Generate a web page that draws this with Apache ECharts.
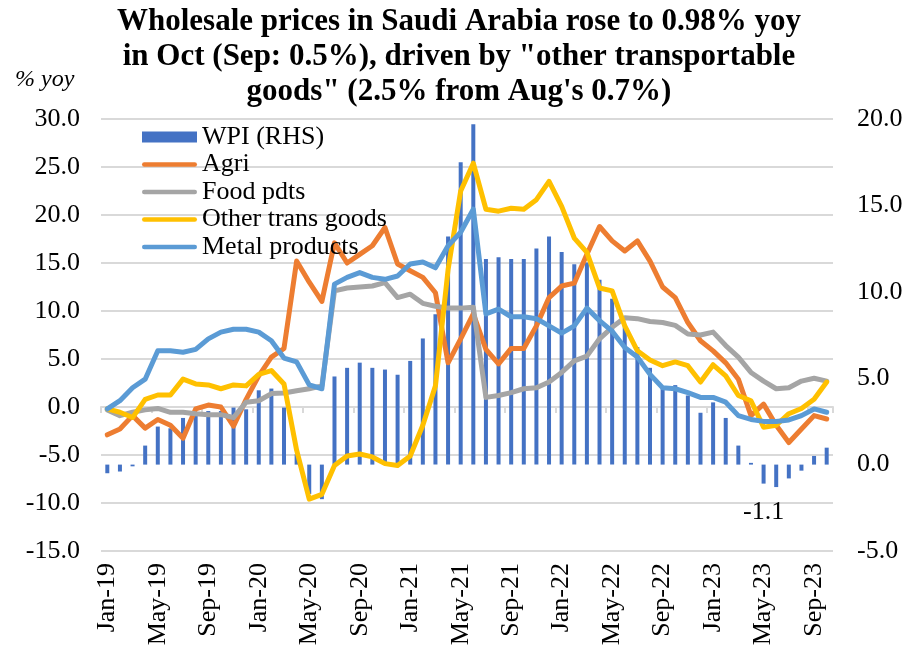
<!DOCTYPE html>
<html>
<head>
<meta charset="utf-8">
<script src="https://cdn.jsdelivr.net/npm/echarts@6/dist/echarts.min.js"></script>
<style>
  html, body { margin: 0; padding: 0; background: #fff; }
  #wpiChart { width: 912px; height: 663px; }
</style>
</head>
<body>
<div id="wpiChart"></div>
<script>
// monthly, Jan-19 .. Oct-23
const months = [
  'Jan-19', 'Feb-19', 'Mar-19', 'Apr-19', 'May-19', 'Jun-19', 'Jul-19', 'Aug-19', 'Sep-19', 'Oct-19', 'Nov-19', 'Dec-19',
  'Jan-20', 'Feb-20', 'Mar-20', 'Apr-20', 'May-20', 'Jun-20', 'Jul-20', 'Aug-20', 'Sep-20', 'Oct-20', 'Nov-20', 'Dec-20',
  'Jan-21', 'Feb-21', 'Mar-21', 'Apr-21', 'May-21', 'Jun-21', 'Jul-21', 'Aug-21', 'Sep-21', 'Oct-21', 'Nov-21', 'Dec-21',
  'Jan-22', 'Feb-22', 'Mar-22', 'Apr-22', 'May-22', 'Jun-22', 'Jul-22', 'Aug-22', 'Sep-22', 'Oct-22', 'Nov-22', 'Dec-22',
  'Jan-23', 'Feb-23', 'Mar-23', 'Apr-23', 'May-23', 'Jun-23', 'Jul-23', 'Aug-23', 'Sep-23', 'Oct-23',
];

// WPI, right axis
const wpi = [-0.5, -0.4, -0.1, 1.1, 2.2, 2.1, 2.7, 3.0, 3.1, 3.1, 3.3, 3.2,
  4.3, 4.4, 3.3, 0.6, -1.7, -2.0, 5.1, 5.6, 5.9, 5.6, 5.5, 5.2,
  6.0, 7.3, 8.7, 13.2, 17.5, 19.7, 11.9, 12.0, 11.9, 11.9, 12.5, 13.2,
  12.3, 11.6, 11.7, 10.7, 9.6, 8.0, 6.8, 5.6, 4.4, 4.6, 4.0, 3.0,
  3.6, 2.7, 1.1, 0.1, -1.1, -1.3, -0.8, -0.35, 0.5, 0.98];

const agri = [-2.9, -2.3, -0.9, -2.2, -1.3, -1.9, -3.25, -0.2, 0.2, 0.0, -2.0, 0.8,
  3.25, 5.2, 6.1, 15.2, 13.0, 11.0, 17.1, 15.0, 15.9, 16.8, 18.7, 14.9,
  14.2, 13.5, 11.9, 4.6, 7.1, 9.7, 6.0, 4.5, 6.1, 6.1, 8.45, 11.4,
  12.6, 12.9, 15.9, 18.8, 17.3, 16.25, 17.3, 15.2, 12.5, 11.4, 8.8, 6.9,
  5.85, 4.6, 2.9, -0.9, 0.3, -1.9, -3.7, -2.3, -0.9, -1.25];

const foodPdts = [-0.3, -0.9, -0.55, -0.3, -0.15, -0.55, -0.55, -0.7, -0.8, -0.8, -1.1, 0.5,
  0.65, 1.4, 1.45, 1.7, 1.9, 2.2, 12.1, 12.4, 12.5, 12.6, 12.95, 11.4,
  11.75, 10.8, 10.5, 10.3, 10.3, 10.4, 1.0, 1.2, 1.5, 1.9, 2.0, 2.6,
  3.6, 4.8, 5.3, 7.1, 8.3, 9.3, 9.2, 8.9, 8.8, 8.5, 7.6, 7.5,
  7.8, 6.4, 5.2, 3.6, 2.7, 1.9, 2.0, 2.7, 3.0, 2.7];

const otherTrans = [-0.2, -0.55, -1.1, 0.8, 1.25, 1.25, 2.9, 2.4, 2.3, 1.9, 2.3, 2.2,
  3.4, 3.8, 2.4, -4.5, -9.6, -9.1, -6.1, -5.1, -4.9, -5.2, -5.9, -6.1,
  -5.1, -1.9, 2.2, 14.3, 22.5, 25.4, 20.6, 20.4, 20.7, 20.6, 21.6, 23.5,
  20.9, 17.6, 16.1, 12.4, 12.1, 8.45, 5.85, 4.9, 4.3, 4.7, 4.3, 2.6,
  4.4, 3.25, 1.2, 0.65, -2.1, -1.9, -0.7, -0.15, 0.8, 2.6];

const metal = [-0.2, 0.66, 2.0, 2.9, 5.85, 5.85, 5.7, 6.0, 7.1, 7.8, 8.1, 8.1,
  7.8, 6.9, 5.1, 4.7, 2.3, 1.9, 12.8, 13.5, 14.0, 13.5, 13.3, 13.65,
  14.9, 15.1, 14.5, 16.8, 18.2, 20.6, 9.7, 10.2, 9.4, 9.4, 9.2, 8.45,
  7.7, 8.45, 10.3, 9.0, 7.9, 6.2, 5.2, 3.4, 2.0, 1.9, 1.5, 1.0,
  1.0, 0.5, -0.9, -1.3, -1.5, -1.5, -1.35, -0.9, -0.2, -0.55];

const labelledIdx = 52; // May-23 bar gets the "-1.1" tag

const serif = '"Liberation Serif", "Times New Roman", serif';
const gridColor = '#D9D9D9';
// rounded stroke used as legend icon for the lines
const lineIcon = 'path://M4.5,0h101a4.5,4.5,0,0,1,0,9h-101a4.5,4.5,0,0,1,0,-9z';

let myChart = echarts.init(document.getElementById('wpiChart'), null, { renderer: 'canvas' });

function lineSeries(name, data, color) {
  return {
    name: name,
    type: 'line',
    yAxisIndex: 0,
    data: data,
    symbol: 'none',
    smooth: false,
    lineStyle: { color: color, width: 5, cap: 'round', join: 'round' },
    itemStyle: { color: color },
  };
}

let option = {
  animation: false,
  backgroundColor: '#fff',
  title: {
    text: 'Wholesale prices in Saudi Arabia rose to 0.98% yoy\nin Oct (Sep: 0.5%), driven by "other transportable\ngoods" (2.5% from Aug\'s 0.7%)',
    left: 459,
    top: 4,
    textAlign: 'center',
    padding: 0,
    textStyle: {
      fontFamily: serif,
      fontWeight: 'bold',
      fontSize: 31,
      lineHeight: 35,
      color: '#000',
    },
  },
  graphic: [{
    type: 'text',
    left: 15,
    top: 68,
    style: {
      text: '% yoy',
      font: 'italic 24px ' + serif,
      fill: '#000',
    },
  }],
  legend: {
    orient: 'vertical',
    left: 142,
    top: 124,
    padding: 0,
    itemWidth: 55,
    itemHeight: 11,
    itemGap: 1.5,
    textStyle: { fontFamily: serif, fontSize: 26, lineHeight: 26, color: '#000' },
    data: [
      { name: 'WPI (RHS)', icon: 'rect' },
      { name: 'Agri', icon: lineIcon },
      { name: 'Food pdts', icon: lineIcon },
      { name: 'Other trans goods', icon: lineIcon },
      { name: 'Metal products', icon: lineIcon },
    ],
  },
  grid: { left: 101, right: 79, top: 119, bottom: 112 },
  xAxis: [
    {
      type: 'category',
      data: months,
      position: 'bottom',
      boundaryGap: true,
      axisLine: { show: false, onZero: false },
      axisTick: { show: false },
      axisLabel: {
        interval: 3,
        rotate: 90,
        margin: 12,
        fontFamily: serif,
        fontSize: 26,
        color: '#000',
      },
    },
    {
      // axis line at zero with small ticks, no labels
      type: 'category',
      data: months,
      position: 'top',
      boundaryGap: true,
      axisLine: { show: true, onZero: true, lineStyle: { color: gridColor, width: 2 } },
      axisTick: { show: true, interval: 3, inside: true, length: 6, lineStyle: { color: gridColor, width: 2 } },
      axisLabel: { show: false },
    },
  ],
  yAxis: [
    {
      type: 'value',
      min: -15,
      max: 30,
      interval: 5,
      axisLine: { show: false },
      axisTick: { show: false },
      axisLabel: {
        margin: 21,
        fontFamily: serif,
        fontSize: 26,
        color: '#000',
        formatter: (v) => v.toFixed(1),
      },
      splitLine: { lineStyle: { color: gridColor, width: 2 } },
    },
    {
      type: 'value',
      min: -5,
      max: 20,
      interval: 5,
      axisLine: { show: false },
      axisTick: { show: false },
      axisLabel: {
        margin: 24,
        fontFamily: serif,
        fontSize: 26,
        color: '#000',
        formatter: (v) => v.toFixed(1),
      },
      splitLine: { show: false },
    },
  ],
  series: [
    {
      name: 'WPI (RHS)',
      type: 'bar',
      yAxisIndex: 1,
      barWidth: 4,
      itemStyle: { color: '#4472C4' },
      data: wpi.map((v, i) => (i === labelledIdx ? {
        value: v,
        label: {
          show: true,
          position: 'bottom',
          distance: 16,
          fontFamily: serif,
          fontSize: 26,
          color: '#000',
          formatter: '{c}',
        },
      } : v)),
    },
    lineSeries('Agri', agri, '#ED7D31'),
    lineSeries('Food pdts', foodPdts, '#A5A5A5'),
    lineSeries('Other trans goods', otherTrans, '#FFC000'),
    lineSeries('Metal products', metal, '#5B9BD5'),
  ],
};

myChart.setOption(option);
</script>
</body>
</html>
